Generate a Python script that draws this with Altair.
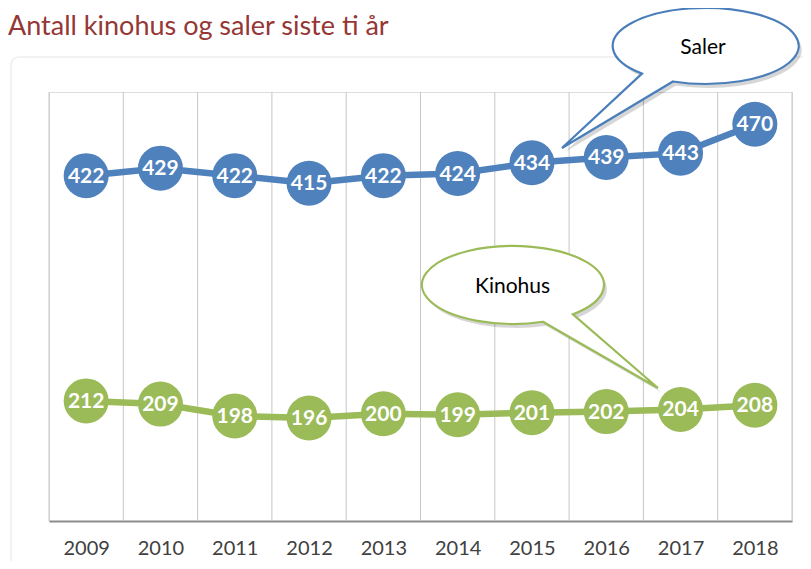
import altair as alt
import pandas as pd

# ---- data ----
years = [2009, 2010, 2011, 2012, 2013, 2014, 2015, 2016, 2017, 2018]
saler = [422, 429, 422, 415, 422, 424, 434, 439, 443, 470]
kinohus = [212, 209, 198, 196, 200, 199, 201, 202, 204, 208]
series_names = ["Saler", "Kinohus"]
series_colors = ["#4f81bd", "#9bbb59"]

title_text = "Antall kinohus og saler siste ti år"

callout_labels = ["Saler", "Kinohus"]
callout_years = [2015, 2017]
callout_values = [434, 204]

# ---- tables ----
df = pd.DataFrame({
    "year": years * 2,
    "value": saler + kinohus,
    "series": ["Saler"] * len(years) + ["Kinohus"] * len(years),
})
bounds = pd.DataFrame({"year": [y - 0.5 for y in years] + [years[-1] + 0.5]})
calls = pd.DataFrame({"label": callout_labels, "year": callout_years, "value": callout_values})

# ---- styling ----
W, H = 743, 429
FONT = "Lato"
xscale = alt.Scale(domain=[years[0] - 0.5, years[-1] + 0.5], nice=False, zero=False)
yscale = alt.Scale(domain=[100, 500], nice=False, zero=False)
color = alt.Color("series:N", scale=alt.Scale(domain=series_names, range=series_colors), legend=None)

x_axis = alt.Axis(values=years, format="d", title=None, grid=False, ticks=False, tickSize=0,
                  labelPadding=17, labelFont=FONT, labelFontSize=20, labelFontWeight="normal",
                  labelColor="#404040", domainColor="#8c8c8c", domainWidth=2, labelFlush=False)

# callout shapes (pixel paths relative to the data point they point at)
saler_path = "M110,-89.2L30,-14.8L141,-81.3A93,38,0,1,0,110,-89.2Z"
kino_path = "M-137.6,-87.7L-22.6,-21.5L-107.6,-95.2A91,39,0,1,0,-137.6,-87.7Z"
shape_scale = alt.Scale(domain=callout_labels, range=[saler_path, kino_path])
stroke_scale = alt.Scale(domain=callout_labels, range=["#4a7ebb", "#9bbb59"])

X = alt.X("year:Q", scale=xscale, axis=x_axis)
Y = alt.Y("value:Q", scale=yscale, axis=None)

frame = alt.Chart(pd.DataFrame({"k": [0]})).mark_rect(
    fillOpacity=0, stroke="#eeeeee", strokeWidth=1.5, cornerRadius=8
).encode(x=alt.value(-38), x2=alt.value(W + 40), y=alt.value(-35), y2=alt.value(H + 80))

grid = alt.Chart(bounds).mark_rule(color="#c6c6c6", strokeWidth=1).encode(
    x=X, y=alt.value(0), y2=alt.value(H),
)

lines = alt.Chart(df).mark_line(strokeWidth=6.5).encode(x=X, y=Y, color=color)
dots = alt.Chart(df).mark_circle(size=2025, opacity=1).encode(x=X, y=Y, color=color)
labels = alt.Chart(df).mark_text(font=FONT, fontSize=21, fontWeight="bold", color="white",
                                 baseline="middle", dy=1).encode(x=X, y=Y, text="value:Q")

shadow = alt.Chart(calls).mark_point(filled=True, size=4, fill="#000000", fillOpacity=0.16,
                                     strokeWidth=0, xOffset=3, yOffset=4).encode(
    x=X, y=Y, shape=alt.Shape("label:N", scale=shape_scale, legend=None))
bubbles = alt.Chart(calls).mark_point(filled=True, size=4, fill="white", opacity=1,
                                      fillOpacity=1, strokeWidth=2.2).encode(
    x=X, y=Y,
    shape=alt.Shape("label:N", scale=shape_scale, legend=None),
    stroke=alt.Stroke("label:N", scale=stroke_scale, legend=None),
)
saler_txt = alt.Chart(calls[calls.label == "Saler"]).mark_text(
    font=FONT, fontSize=21, color="#000000", baseline="middle", dx=171, dy=-115
).encode(x=X, y=Y, text="label:N")
kino_txt = alt.Chart(calls[calls.label == "Kinohus"]).mark_text(
    font=FONT, fontSize=21, color="#000000", baseline="middle", dx=-168, dy=-122
).encode(x=X, y=Y, text="label:N")

title = alt.Chart(pd.DataFrame({"t": [title_text]})).mark_text(
    font=FONT, fontSize=27, color="#953735", align="left", baseline="alphabetic"
).encode(x=alt.value(-41), y=alt.value(-57), text="t:N")

chart = alt.layer(
    frame, grid, lines, dots, labels, shadow, bubbles, saler_txt, kino_txt, title
).properties(
    width=W, height=H,
    autosize=alt.AutoSizeParams(type="none"),
    padding={"left": 41, "top": 84, "right": 11, "bottom": 40},
).configure_view(strokeWidth=0).configure(background="white")

chart.save("out.html", embed_options={"renderer": "svg", "actions": False})
